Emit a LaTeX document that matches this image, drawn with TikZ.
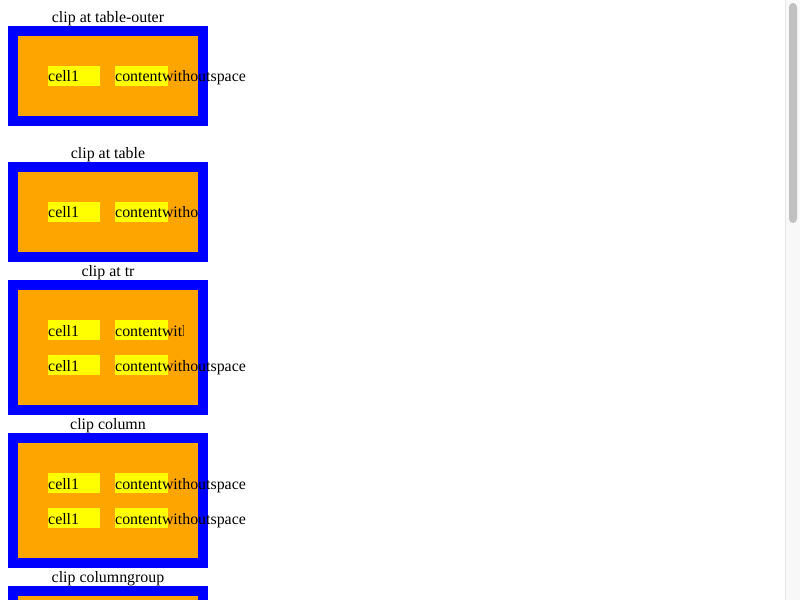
\documentclass[tikz,border=0pt]{standalone}
\usepackage{fontspec}
\setmainfont{Liberation Serif}
\definecolor{frameblue}{HTML}{0000FF}
\definecolor{padorange}{HTML}{FFA500}
\definecolor{cellyellow}{HTML}{FFFF00}
\definecolor{trackgray}{HTML}{F8F8F8}
\definecolor{trackline}{HTML}{E6E6E6}
\definecolor{thumbgray}{HTML}{C1C1C1}
\begin{document}
\begin{tikzpicture}[x=1bp,y=-1bp,
  txt/.style={inner sep=0pt, font=\fontsize{15.9bp}{18bp}\selectfont},
  caption/.style={txt, anchor=base},
  celltext/.style={txt, anchor=base west},
  frame/.style={fill=frameblue},
  pad/.style={fill=padorange},
  cellbg/.style={fill=cellyellow}]
\useasboundingbox (0,0) rectangle (800,600);
\fill[white] (0,0) rectangle (800,600);

% table 1: clip at table-outer
\node[caption] (cap1) at (108,22.5) {clip at table-outer};
\fill[frame] (8,26) rectangle (208,126);
\fill[pad] (18,36) rectangle (198,116);
\fill[cellbg] (48,66) rectangle (100,86);
\fill[cellbg] (115,66) rectangle (168,86);
\node[celltext] (a1) at (48,82) {cell1};
\node[celltext] (a2) at (115,82) {contentwithoutspace};

% table 2: clip at table
\node[caption] (cap2) at (108,158.5) {clip at table};
\fill[frame] (8,162) rectangle (208,262);
\fill[pad] (18,172) rectangle (198,252);
\fill[cellbg] (48,202) rectangle (100,222);
\fill[cellbg] (115,202) rectangle (168,222);
\node[celltext] (b1) at (48,218) {cell1};
\begin{scope}
  \clip (18,172) rectangle (198,252);
  \node[celltext] (b2) at (115,218) {contentwithoutspace};
\end{scope}

% table 3: clip at tr
\node[caption] (cap3) at (108,276.5) {clip at tr};
\fill[frame] (8,280) rectangle (208,415);
\fill[pad] (18,290) rectangle (198,405);
\fill[cellbg] (48,320) rectangle (100,340);
\fill[cellbg] (115,320) rectangle (168,340);
\fill[cellbg] (48,355) rectangle (100,375);
\fill[cellbg] (115,355) rectangle (168,375);
\node[celltext] (c1) at (48,336) {cell1};
\begin{scope}
  \clip (18,315) rectangle (183,345);
  \node[celltext] (c2) at (115,336) {contentwithoutspace};
\end{scope}
\node[celltext] (c3) at (48,371) {cell1};
\node[celltext] (c4) at (115,371) {contentwithoutspace};

% table 4: clip column
\node[caption] (cap4) at (108,429.5) {clip column};
\fill[frame] (8,433) rectangle (208,568);
\fill[pad] (18,443) rectangle (198,558);
\fill[cellbg] (48,473) rectangle (100,493);
\fill[cellbg] (115,473) rectangle (168,493);
\fill[cellbg] (48,508) rectangle (100,528);
\fill[cellbg] (115,508) rectangle (168,528);
\node[celltext] (d1) at (48,489) {cell1};
\node[celltext] (d2) at (115,489) {contentwithoutspace};
\node[celltext] (d3) at (48,524) {cell1};
\node[celltext] (d4) at (115,524) {contentwithoutspace};

% table 5: clip columngroup (continues below the page)
\node[caption] (cap5) at (108,582.5) {clip columngroup};
\fill[frame] (8,586) rectangle (208,600);
\fill[pad] (18,596) rectangle (198,600);

% scroll bar
\fill[trackgray] (785,0) rectangle (800,600);
\draw[trackline, line width=1bp] (785.5,0) -- (785.5,600);
\fill[thumbgray, rounded corners=4bp] (789,3) rectangle (797,223);
\end{tikzpicture}
\end{document}
